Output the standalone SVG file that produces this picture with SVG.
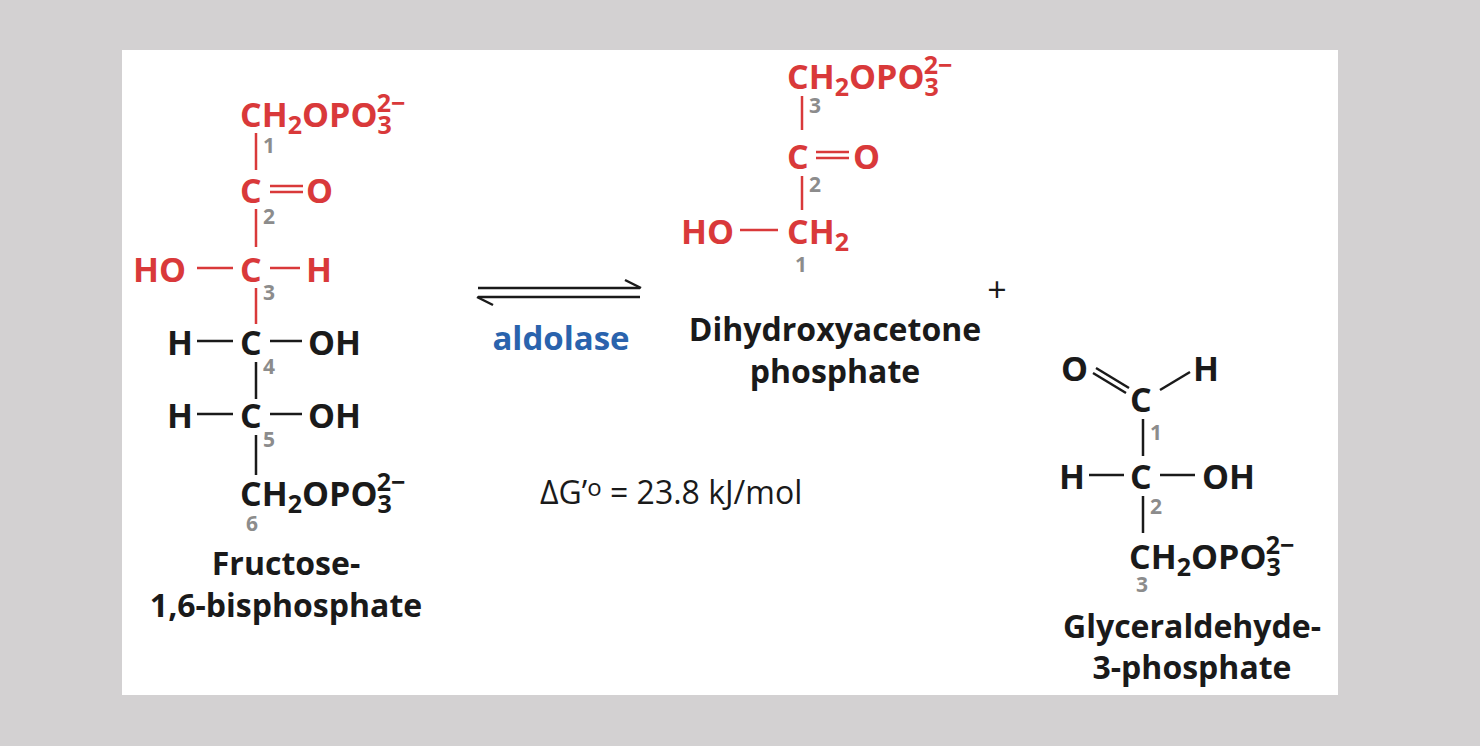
<svg xmlns="http://www.w3.org/2000/svg" width="1480" height="746" viewBox="0 0 1480 746">
<style>
text{font-family:"Open Sans","Liberation Sans",sans-serif;font-weight:bold;font-size:34px}
.r{fill:#d9393a}.k{fill:#1a1a1a}.n{fill:#8c8c8c;font-size:21px}
.sb{font-size:25px}
.lr{stroke:#d9393a;stroke-width:2.5;fill:none}.lk{stroke:#1a1a1a;stroke-width:2.5;fill:none}
.lab{fill:#1a1a1a;text-anchor:middle;font-size:32px}
</style>
<rect width="1480" height="746" fill="#d3d1d2"/>
<rect x="122" y="50" width="1216" height="645" fill="#fff"/>
<defs>
<g id="phos"><text x="0" y="0">CH<tspan class="sb" dy="7">2</tspan><tspan dy="-7">OPO</tspan><tspan class="sb" dy="7">3</tspan><tspan class="sb" dx="-15" dy="-22">2−</tspan></text></g>
</defs>
<g id="fructose">
<use href="#phos" x="240" y="127" class="r"/>
<line class="lr" x1="256" y1="133" x2="256" y2="170"/><text class="n" x="263" y="153">1</text>
<text class="r" x="240" y="203">C</text>
<line class="lr" x1="270" y1="186" x2="303" y2="186"/><line class="lr" x1="270" y1="192" x2="303" y2="192"/>
<text class="r" x="306" y="203">O</text>
<line class="lr" x1="256" y1="209" x2="256" y2="247"/><text class="n" x="263" y="224">2</text>
<text class="r" x="133" y="282">HO</text>
<line class="lr" x1="197" y1="268" x2="233" y2="268"/>
<text class="r" x="240" y="282">C</text>
<line class="lr" x1="270" y1="268" x2="300" y2="268"/>
<text class="r" x="306" y="282">H</text>
<line class="lr" x1="256" y1="288" x2="256" y2="324"/><text class="n" x="263" y="300">3</text>
<text class="k" x="167" y="355">H</text>
<line class="lk" x1="197" y1="341" x2="233" y2="341"/>
<text class="k" x="240" y="355">C</text>
<line class="lk" x1="270" y1="341" x2="302" y2="341"/>
<text class="k" x="308" y="355">OH</text>
<line class="lk" x1="256" y1="362" x2="256" y2="399"/><text class="n" x="263" y="374">4</text>
<text class="k" x="167" y="428">H</text>
<line class="lk" x1="197" y1="414" x2="233" y2="414"/>
<text class="k" x="240" y="428">C</text>
<line class="lk" x1="270" y1="414" x2="302" y2="414"/>
<text class="k" x="308" y="428">OH</text>
<line class="lk" x1="256" y1="435" x2="256" y2="475"/><text class="n" x="263" y="447">5</text>
<use href="#phos" x="240" y="506" class="k"/>
<text class="n" x="246" y="531">6</text>
<text class="lab" x="286" y="575">Fructose-</text>
<text class="lab" x="286" y="617">1,6-bisphosphate</text>
</g>
<g id="arrows">
<line class="lk" x1="478" y1="288" x2="640" y2="288"/>
<path d="M641 288 L625 280" class="lk" stroke-width="3"/>
<line class="lk" x1="478" y1="297" x2="640" y2="297"/>
<path d="M477 297 L493 305" class="lk" stroke-width="3"/>
<text x="561" y="350" text-anchor="middle" style="fill:#2a63ad;font-size:33px">aldolase</text>
</g>
<g id="dhap">
<use href="#phos" x="787" y="89" class="r"/>
<line class="lr" x1="802" y1="96" x2="802" y2="130"/><text class="n" x="809" y="113">3</text>
<text class="r" x="787" y="169">C</text>
<line class="lr" x1="816" y1="152" x2="849" y2="152"/><line class="lr" x1="816" y1="158" x2="849" y2="158"/>
<text class="r" x="853" y="169">O</text>
<line class="lr" x1="802" y1="176" x2="802" y2="210"/><text class="n" x="809" y="192">2</text>
<text class="r" x="681" y="244">HO</text>
<line class="lr" x1="740" y1="230" x2="778" y2="230"/>
<text class="r" x="787" y="244">CH<tspan class="sb" dy="7">2</tspan></text>
<text class="n" x="795" y="272">1</text>
<text class="lab" x="835" y="341">Dihydroxyacetone</text>
<text class="lab" x="835" y="383">phosphate</text>
</g>
<text x="997" y="302" text-anchor="middle" style="font-weight:normal;font-size:34px;fill:#1a1a1a">+</text>
<text x="540" y="504" style="font-weight:normal;font-size:32px;fill:#1a1a1a">ΔG’<tspan style="font-size:24px" dy="-8">o</tspan><tspan dy="8"> = 23.8 kJ/mol</tspan></text>
<g id="g3p">
<text class="k" x="1061" y="381">O</text>
<text class="k" x="1193" y="381">H</text>
<line class="lk" x1="1096" y1="368" x2="1129" y2="388"/><line class="lk" x1="1093" y1="373" x2="1126" y2="393"/>
<line class="lk" x1="1160" y1="390" x2="1190" y2="372"/>
<text class="k" x="1130" y="412">C</text>
<line class="lk" x1="1143" y1="419" x2="1143" y2="456"/><text class="n" x="1150" y="440">1</text>
<text class="k" x="1059" y="489">H</text>
<line class="lk" x1="1089" y1="475" x2="1124" y2="475"/>
<text class="k" x="1130" y="489">C</text>
<line class="lk" x1="1160" y1="475" x2="1195" y2="475"/>
<text class="k" x="1202" y="489">OH</text>
<line class="lk" x1="1143" y1="496" x2="1143" y2="533"/><text class="n" x="1150" y="514">2</text>
<use href="#phos" x="1129" y="569" class="k"/>
<text class="n" x="1136" y="592">3</text>
<text class="lab" x="1192" y="638">Glyceraldehyde-</text>
<text class="lab" x="1192" y="679">3-phosphate</text>
</g>
</svg>
